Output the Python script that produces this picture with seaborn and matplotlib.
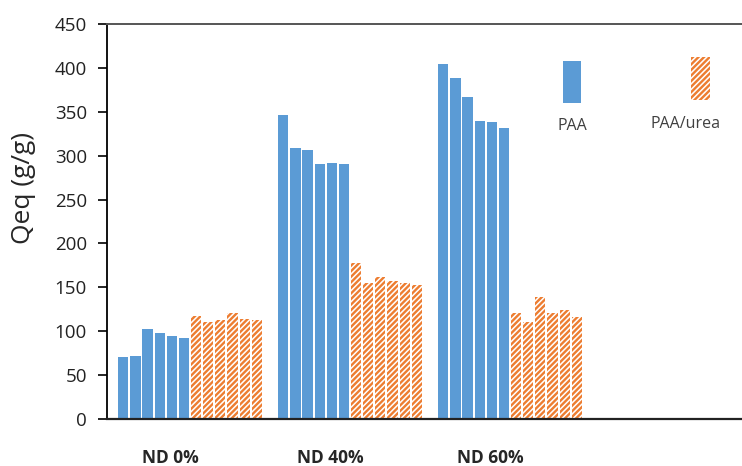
import pandas as pd
import matplotlib
matplotlib.use("Agg")
import matplotlib.pyplot as plt
import seaborn as sns
from matplotlib.patches import Rectangle

# Equilibrium swelling data
groups = ["ND 0%", "ND 40%", "ND 60%"]
paa = [[71, 72, 103, 98, 94, 92],
       [346, 309, 307, 291, 292, 290],
       [404, 389, 367, 340, 338, 331]]
paa_urea = [[117, 111, 113, 121, 114, 113],
            [178, 155, 162, 157, 155, 153],
            [121, 110, 139, 121, 124, 116]]
yticks = [0, 50, 100, 150, 200, 250, 300, 350, 400, 450]

blue = "#5B9BD5"
orange = "#ED7D31"

# long-form table: one row per bar
rows = []
for g, p_vals, u_vals in zip(groups, paa, paa_urea):
    for i, v in enumerate(p_vals):
        rows.append({"group": g, "bar": f"PAA {i+1}", "Qeq": v})
    for i, v in enumerate(u_vals):
        rows.append({"group": g, "bar": f"PAA/urea {i+1}", "Qeq": v})
df = pd.DataFrame(rows)
hue_order = [f"PAA {i+1}" for i in range(6)] + [f"PAA/urea {i+1}" for i in range(6)]

sns.set_style("white")
plt.rcParams["font.family"] = ["Open Sans", "DejaVu Sans"]
plt.rcParams["hatch.linewidth"] = 1.7

fig = plt.figure(figsize=(7.42, 4.66), dpi=100)
ax = fig.add_axes([107 / 742, 1 - 419 / 466, (742 - 107) / 742, (419 - 24) / 466])

palette = {h: (blue if h.startswith("PAA ") else "white") for h in hue_order}
sns.barplot(data=df, x="group", y="Qeq", hue="bar", order=groups, hue_order=hue_order,
            palette=palette, width=0.91, gap=0.16, legend=False, errorbar=None,
            saturation=1, ax=ax)

# orange hatched bars for PAA/urea
for h, cont in zip(hue_order, ax.containers):
    for patch in cont:
        if h.startswith("PAA/urea"):
            patch.set_facecolor("white")
            patch.set_edgecolor(orange)
            patch.set_hatch("//////")
            patch.set_linewidth(0)
        else:
            patch.set_edgecolor("none")

ax.set_xlim(-0.519, 3.45)
ax.set_ylim(0, 450)
ax.set_yticks(yticks)
ax.tick_params(axis="y", direction="out", length=6.5, width=1.2, color="black",
               labelsize=13.5, pad=8, left=True, labelcolor="#222222")
ax.set_xticks([])
ax.set_xlabel("")
ax.set_ylabel("Qeq (g/g)", fontsize=19, va="center")
ax.yaxis.set_label_coords(-0.132, 0.585)

for side in ["left", "bottom", "top"]:
    ax.spines[side].set_visible(True)
ax.spines["right"].set_visible(False)
ax.spines["left"].set_color("black")
ax.spines["left"].set_linewidth(1.3)
ax.spines["bottom"].set_color("#222222")
ax.spines["bottom"].set_linewidth(1.6)
ax.spines["top"].set_color("#555555")
ax.spines["top"].set_linewidth(1.4)

# category labels, sitting slightly left of the bar groups
for i, g in enumerate(groups):
    ax.text(i - 0.125, -0.098, g, transform=ax.get_xaxis_transform(),
            ha="center", va="center", fontsize=12.5, fontweight="bold")

# hand-placed legend: swatches above their labels
fig.add_artist(Rectangle((563 / 742, 1 - 103 / 466), 18 / 742, 42 / 466,
                         transform=fig.transFigure, facecolor=blue, edgecolor="none"))
fig.add_artist(Rectangle((691 / 742, 1 - 100 / 466), 19 / 742, 43 / 466,
                         transform=fig.transFigure, facecolor="white", edgecolor=orange,
                         hatch="//////", linewidth=0))
fig.text(572 / 742, 1 - 126 / 466, "PAA", ha="center", va="center", fontsize=11.5, color="#404040")
fig.text(685 / 742, 1 - 124 / 466, "PAA/urea", ha="center", va="center", fontsize=11.5, color="#404040")

fig.savefig("out.png", dpi=100)
